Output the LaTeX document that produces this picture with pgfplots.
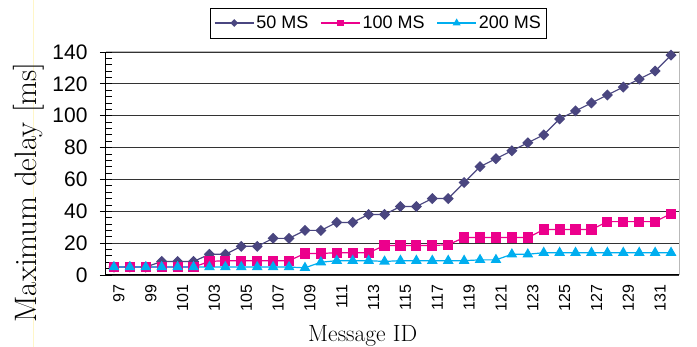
\documentclass[border=0pt]{standalone}
\usepackage{fontspec}
\usepackage{pgfplots}
\usepackage{pgfplotstable}
\pgfplotsset{compat=1.18}
\newfontfamily\arial{Liberation Sans}
\definecolor{cA}{HTML}{4A4680}
\definecolor{cB}{HTML}{EC008C}
\definecolor{cC}{HTML}{00AEEF}
\pgfplotstableread{
x a b c
97 5 5 5
98 5 5 5
99 5 5 5
100 8.5 5 5
101 8.5 5 5
102 8.5 5 5
103 13 8.5 5
104 13 9 5
105 18 9 5
106 18 9 5
107 23 9 5
108 23 9 5
109 28 13.5 4.5
110 28 13.5 8
111 33 14 9
112 33 14 9
113 38 14 9
114 38 18.5 8.5
115 43 18.5 9
116 43 18.5 9
117 48 18.5 9
118 48 19 9
119 58 23.5 9
120 68 23.5 9.5
121 73 23.5 9.5
122 78 23.5 13
123 83 23.5 13
124 88 28.5 14
125 98 28.5 14
126 103 28.5 14
127 108 28.5 14
128 113 33.5 14
129 118 33.5 14
130 123 33.5 14
131 128 33.5 14
132 138 38.5 14
}\datatable
\begin{document}
\begin{tikzpicture}
\path[use as bounding box] (0,0) rectangle (697pt,347pt);
\draw[color={rgb,255:red,255;green,246;blue,200}, line width=0.8pt] (33pt,0pt) -- (33pt,347pt);
\begin{axis}[
  at={(106pt,72pt)}, anchor=south west,
  scale only axis, width=573pt, height=223pt,
  xmin=96.5, xmax=132.5, ymin=0, ymax=140,
  axis lines*=left,
  axis line style={black, line width=1pt},
  tick align=center,
  xtick={97,99,...,131},
  xtick style={draw=none},
  minor xtick={96.5,97.5,...,132.5},
  minor x tick style={black, line width=0.8pt, yshift=-3pt},
  ytick={0,20,...,140},
  minor y tick num=4,
  major tick length=12pt,
  minor tick length=6pt,
  y tick style={black, line width=0.8pt},
  minor y tick style={black, line width=0.8pt, xshift=3pt},
  ymajorgrids,
  major grid style={black!80, line width=1.1pt},
  /pgf/number format/assume math mode=true,
  xticklabel style={rotate=90, anchor=east, yshift=-5pt, font=\arial\fontsize{16}{16}\selectfont},
  yticklabel style={xshift=-9pt, font=\arial\fontsize{21}{21}\selectfont},
  xlabel={Message ID},
  ylabel={Maximum delay [ms]},
  every axis x label/.style={at={(axis description cs:0.448,-0.297)}, anchor=base, font=\fontsize{23.5}{23.5}\selectfont},
  every axis y label/.style={at={(axis description cs:-0.1346,0.37)}, anchor=center, rotate=90, font=\fontsize{31}{31}\selectfont},
  legend columns=3,
  legend style={at={(axis description cs:0.4755,1.130)}, anchor=center,
    draw=black, line width=0.8pt, font=\arial\fontsize{18}{18}\selectfont,
    inner xsep=4pt, inner ysep=6pt,
    /tikz/every even column/.append style={column sep=10pt}},
  legend image code/.code={\draw[mark repeat=2,mark phase=2] plot coordinates {(0pt,0pt) (19.5pt,0pt) (39pt,0pt)};},
  clip=false,
]
\addplot[cA, line width=1.2pt, mark=square*, mark size=3.3pt, mark options={rotate=45, fill=cA}, legend image post style={mark size=2.2pt}] table[x=x, y=a] {\datatable};
\addlegendentry{50 MS}
\addplot[cB, line width=1.2pt, mark=square*, mark size=4.5pt, mark options={fill=cB}, legend image post style={mark size=2.8pt}] table[x=x, y=b] {\datatable};
\addlegendentry{100 MS}
\addplot[cC, line width=1.2pt, mark=triangle*, mark size=5pt, mark options={fill=cC}, legend image post style={mark size=3.4pt}] table[x=x, y=c] {\datatable};
\addlegendentry{200 MS}
\draw[gray!55, line width=1pt] (rel axis cs:0,1) -- (rel axis cs:1,1) -- (rel axis cs:1,0);
\end{axis}
\end{tikzpicture}
\end{document}
